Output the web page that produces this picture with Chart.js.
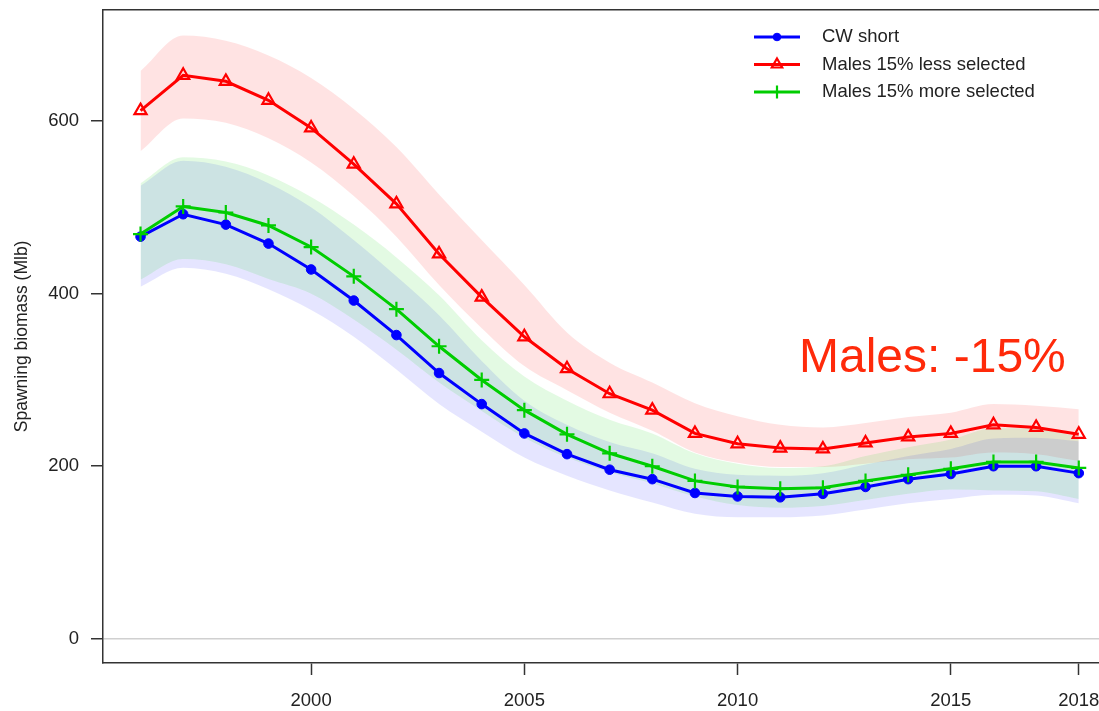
<!DOCTYPE html>
<html>
<head>
<meta charset="utf-8">
<script src="https://cdn.jsdelivr.net/npm/chart.js@4.4.1/dist/chart.umd.min.js"></script>
<style>
  html, body { margin: 0; padding: 0; background: #fff; overflow: hidden; }
  #wrap { width: 1126px; height: 711px; }
</style>
</head>
<body>
<div id="wrap"><canvas id="chart"></canvas></div>
<script>
// Spawning biomass by scenario, 1996-2018, with shaded intervals.

const years = [1996, 1997, 1998, 1999, 2000, 2001, 2002, 2003, 2004, 2005, 2006, 2007,
               2008, 2009, 2010, 2011, 2012, 2013, 2014, 2015, 2016, 2017, 2018];

const cwShort = [466, 492, 480, 458, 428, 392, 352, 308, 272, 238, 214, 196,
                 185, 169, 165, 164, 168, 176, 185, 191, 200, 200, 192];
const lessSel = [612, 653, 646, 624, 592, 550, 504, 446, 396, 350, 313, 284,
                 265, 238, 226, 221, 220, 227, 234, 238, 248, 245, 237];
const moreSel = [469, 501, 494, 479, 454, 420, 382, 339, 300, 265, 237, 215,
                 200, 183, 176, 174, 175, 183, 190, 197, 205, 205, 198];

// interval bounds
const cwLo   = [408, 430, 423, 405, 381, 350, 312, 272, 240, 210, 189, 172,
                158, 145, 141, 141, 143, 150, 157, 162, 167, 166, 157];
const cwHi   = [525, 554, 547, 528, 500, 462, 420, 375, 322, 276, 248, 228,
                215, 197, 190, 189, 192, 202, 212, 220, 232, 233, 229];
const lessLo = [565, 603, 598, 580, 552, 513, 466, 410, 360, 316, 288, 262,
                241, 216, 204, 199, 199, 203, 208, 210, 216, 214, 206];
const lessHi = [658, 699, 693, 676, 650, 614, 570, 515, 462, 410, 355, 320,
                297, 273, 258, 248, 245, 250, 257, 262, 272, 270, 266];
const moreLo = [416, 440, 434, 417, 400, 370, 335, 297, 264, 233, 210, 193,
                180, 165, 155, 152, 154, 161, 168, 173, 172, 171, 162];
const moreHi = [528, 558, 553, 537, 512, 480, 442, 398, 346, 304, 276, 254,
                238, 215, 203, 198, 200, 212, 222, 231, 244, 243, 234];

const seriesNames = ['CW short', 'Males 15% less selected', 'Males 15% more selected'];
const xTicks = [2000, 2005, 2010, 2015, 2018];
const yTicks = [0, 200, 400, 600];

const FONT = '"Liberation Sans", Arial, Helvetica, sans-serif';
const TEXT = '#222';

function pts(vals) {
  return vals.map((v, i) => ({ x: years[i], y: v }));
}

function lineSet(label, vals, color, style, radius, filled, order) {
  return {
    label, data: pts(vals), order,
    borderColor: color, borderWidth: 3,
    pointStyle: style, pointRadius: radius, pointHoverRadius: radius,
    pointBackgroundColor: filled ? color : 'rgba(0,0,0,0)',
    pointBorderColor: color, pointBorderWidth: filled ? 1 : 2.2,
    tension: 0, fill: false,
  };
}

function bandSet(vals, fill, color, order) {
  return {
    label: '_band', data: pts(vals), order,
    borderWidth: 0, pointRadius: 0, pointHoverRadius: 0,
    backgroundColor: color, fill,
    tension: 0.4, cubicInterpolationMode: 'monotone',
  };
}

const datasets = [
  lineSet(seriesNames[0], cwShort, '#0000ff', 'circle', 4.8, true, 3),
  lineSet(seriesNames[1], lessSel, '#ff0000', 'triangle', 7, false, 2),
  lineSet(seriesNames[2], moreSel, '#00cd00', 'cross', 7.5, false, 1),
  bandSet(lessLo, false, 'rgba(255,0,0,0.11)', 30),
  bandSet(lessHi, '-1', 'rgba(255,0,0,0.11)', 30),
  bandSet(cwLo, false, 'rgba(0,0,255,0.10)', 20),
  bandSet(cwHi, '-1', 'rgba(0,0,255,0.10)', 20),
  bandSet(moreLo, false, 'rgba(0,205,0,0.11)', 10),
  bandSet(moreHi, '-1', 'rgba(0,205,0,0.11)', 10),
];

// top/right frame, legend and annotation text
const extras = {
  id: 'extras',
  afterDraw(chart) {
    const ctx = chart.ctx;
    const a = chart.chartArea;
    ctx.save();
    ctx.strokeStyle = '#333';
    ctx.lineWidth = 1.5;
    ctx.beginPath();
    ctx.moveTo(a.left, a.top);
    ctx.lineTo(a.right, a.top);
    ctx.lineTo(a.right, a.bottom);
    ctx.stroke();

    ctx.font = '18.5px ' + FONT;
    ctx.textBaseline = 'middle';
    ctx.textAlign = 'left';
    seriesNames.forEach((name, i) => {
      const ds = chart.data.datasets[i];
      const y = 37 + i * 27.5;
      ctx.strokeStyle = ds.borderColor;
      ctx.lineWidth = 3;
      ctx.beginPath();
      ctx.moveTo(754, y);
      ctx.lineTo(800, y);
      ctx.stroke();
      ctx.fillStyle = ds.pointBackgroundColor;
      ctx.lineWidth = ds.pointBorderWidth;
      Chart.helpers.drawPoint(ctx, {
        pointStyle: ds.pointStyle, radius: ds.pointRadius - 1, rotation: 0,
        borderWidth: ds.pointBorderWidth,
      }, 777, y);
      ctx.fillStyle = TEXT;
      ctx.fillText(name, 822, y);
    });

    ctx.fillStyle = '#ff2a0a';
    ctx.font = '48px ' + FONT;
    ctx.fillText('Males: -15%', 799, 359);
    ctx.restore();
  }
};

function noPadding(axis) {
  axis.paddingTop = 0;
  axis.paddingBottom = 0;
  axis.paddingLeft = 0;
  axis.paddingRight = 0;
}

new Chart(document.getElementById('chart'), {
  type: 'line',
  data: { datasets },
  options: {
    responsive: true,
    maintainAspectRatio: false,
    animation: false,
    layout: { padding: { top: 6, right: 4.5, left: 0, bottom: 0 } },
    plugins: {
      legend: { display: false },
      tooltip: { enabled: false },
    },
    scales: {
      x: {
        type: 'linear', min: 1995.12, max: 2018.88,
        afterBuildTicks: axis => { axis.ticks = xTicks.map(v => ({ value: v })); },
        afterFit: axis => { axis.height = 48; noPadding(axis); },
        grid: { color: 'rgba(0,0,0,0)', tickColor: '#333', tickLength: 12, tickWidth: 1.5 },
        border: { display: true, color: '#333', width: 1.5 },
        ticks: { color: TEXT, font: { size: 18.5, family: FONT }, padding: 15, maxRotation: 0,
                 autoSkip: false, callback: v => String(v) },
      },
      y: {
        min: -28, max: 729,
        afterBuildTicks: axis => { axis.ticks = yTicks.map(v => ({ value: v })); },
        afterFit: axis => { axis.width = 103; noPadding(axis); },
        grid: {
          color: ctx => (ctx.tick && ctx.tick.value === 0 ? '#d0d0d0' : 'rgba(0,0,0,0)'),
          lineWidth: 1.5, tickColor: '#333', tickLength: 12, tickWidth: 1.5,
        },
        border: { display: true, color: '#333', width: 1.5 },
        ticks: { color: TEXT, font: { size: 18.5, family: FONT, lineHeight: 0.5 }, padding: 12 },
        title: {
          display: true, text: 'Spawning biomass (Mlb)', color: TEXT,
          font: { size: 17.5, family: FONT }, padding: { top: 12, bottom: 0 },
        },
      },
    },
  },
  plugins: [extras],
});
</script>
</body>
</html>
